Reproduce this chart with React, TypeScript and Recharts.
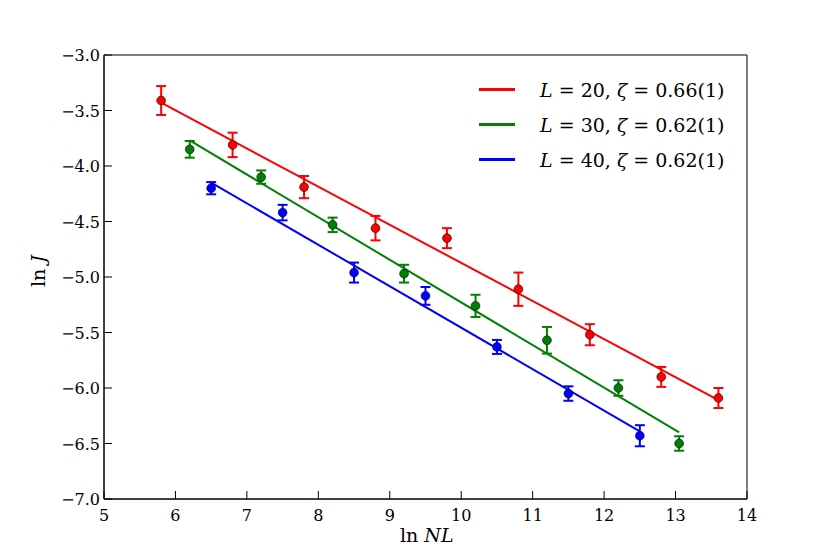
import { ComposedChart, Scatter, ErrorBar, XAxis, YAxis, ReferenceArea } from 'recharts'

// ln(NL), ln(J) and error
const redX = [5.8, 6.8, 7.8, 8.8, 9.8, 10.8, 11.8, 12.8, 13.6]
const redY = [-3.41, -3.81, -4.19, -4.56, -4.65, -5.11, -5.52, -5.9, -6.09]
const redErr = [0.13, 0.11, 0.1, 0.11, 0.09, 0.15, 0.095, 0.09, 0.09]

const greenX = [6.2, 7.2, 8.2, 9.2, 10.2, 11.2, 12.2, 13.05]
const greenY = [-3.85, -4.1, -4.53, -4.97, -5.26, -5.57, -6.0, -6.5]
const greenErr = [0.075, 0.06, 0.065, 0.08, 0.1, 0.12, 0.07, 0.065]

const blueX = [6.5, 7.5, 8.5, 9.5, 10.5, 11.5, 12.5]
const blueY = [-4.2, -4.42, -4.96, -5.17, -5.63, -6.05, -6.43]
const blueErr = [0.055, 0.07, 0.09, 0.08, 0.063, 0.065, 0.095]

// fitted line endpoints
const redFitX = [5.8, 13.6]
const redFitY = [-3.43, -6.11]
const greenFitX = [6.2, 13.05]
const greenFitY = [-3.77, -6.4]
const blueFitX = [6.5, 12.5]
const blueFitY = [-4.15, -6.39]

const xTicks = [5, 6, 7, 8, 9, 10, 11, 12, 13, 14]
const yTicks = [-7, -6.5, -6, -5.5, -5, -4.5, -4, -3.5, -3]

const legend = [
  { L: '20', zeta: '0.66(1)', color: '#ff0000' },
  { L: '30', zeta: '0.62(1)', color: '#008000' },
  { L: '40', zeta: '0.62(1)', color: '#0000ff' },
]

const FONT = '"DejaVu Serif", serif'

const pts = (xs: number[], ys: number[], es?: number[]) =>
  xs.map((x, i) => ({ x, y: ys[i], err: es ? es[i] : 0 }))

const fmt = (v: number) => v.toFixed(1).replace('-', '\u2212')

const dot = (color: string) => (p: any) => (
  <circle cx={p.cx} cy={p.cy} r={4.4} fill={color} stroke="#000" strokeWidth={0.6} />
)

const XTick = (p: any) => (
  <g>
    <line x1={p.x} x2={p.x} y1={p.y} y2={p.y - 8} stroke="#000" />
    <text x={p.x} y={p.y + 22} textAnchor="middle" fontSize={16} fontFamily={FONT} fill="#000">
      {p.payload.value}
    </text>
  </g>
)

const YTick = (p: any) => (
  <g>
    <line x1={p.x} x2={p.x + 8} y1={p.y} y2={p.y} stroke="#000" />
    <text x={p.x - 4} y={p.y + 6} textAnchor="end" fontSize={16} fontFamily={FONT} fill="#000">
      {fmt(p.payload.value)}
    </text>
  </g>
)

export default function App() {
  const series = [
    { data: pts(redX, redY, redErr), fit: pts(redFitX, redFitY), color: '#ff0000' },
    { data: pts(greenX, greenY, greenErr), fit: pts(greenFitX, greenFitY), color: '#008000' },
    { data: pts(blueX, blueY, blueErr), fit: pts(blueFitX, blueFitY), color: '#0000ff' },
  ]

  return (
    <div style={{ position: 'absolute', left: 0, top: 0, width: 830, height: 554, background: '#fff' }}>
      <ComposedChart width={830} height={554} margin={{ top: 55, right: 83, bottom: 25, left: 44 }}>
        <XAxis
          type="number"
          dataKey="x"
          domain={[5, 14]}
          ticks={xTicks}
          interval={0}
          allowDataOverflow
          height={30}
          tickSize={0}
          tickMargin={0}
          tickLine={false}
          axisLine={{ stroke: '#000' }}
          tick={XTick}
        />
        <YAxis
          type="number"
          dataKey="y"
          domain={[-7, -3]}
          ticks={yTicks}
          interval={0}
          allowDataOverflow
          width={60}
          tickSize={0}
          tickMargin={0}
          tickLine={false}
          axisLine={{ stroke: '#000' }}
          tick={YTick}
        />
        <ReferenceArea x1={5} x2={14} y1={-7} y2={-3} fill="none" stroke="#000" strokeWidth={1} />
        {series.map((s, i) => (
          <Scatter
            key={'fit' + i}
            data={s.fit}
            line={{ stroke: s.color, strokeWidth: 2 }}
            shape={() => null}
            isAnimationActive={false}
          />
        ))}
        {series.map((s, i) => (
          <Scatter key={'pts' + i} data={s.data} shape={dot(s.color)} isAnimationActive={false}>
            <ErrorBar dataKey="err" direction="y" width={5} stroke={s.color} strokeWidth={2} isAnimationActive={false} />
          </Scatter>
        ))}
      </ComposedChart>

      <div style={{ position: 'absolute', left: 479, top: 72, fontFamily: FONT, fontSize: 19 }}>
        {legend.map(l => (
          <div key={l.L} style={{ display: 'flex', alignItems: 'center', height: 35 }}>
            <div style={{ width: 36, height: 3.5, background: l.color, marginRight: 25 }} />
            <span>
              <i>L</i> = {l.L}, <i>ζ</i> = {l.zeta}
            </span>
          </div>
        ))}
      </div>

      <div style={{ position: 'absolute', left: 400, top: 524, fontFamily: FONT, fontSize: 19 }}>
        ln <i>NL</i>
      </div>
      <div
        style={{
          position: 'absolute',
          left: 22,
          top: 260,
          fontFamily: FONT,
          fontSize: 19,
          transform: 'rotate(-90deg)',
          whiteSpace: 'nowrap',
        }}
      >
        ln <i>J</i>
      </div>
    </div>
  )
}
